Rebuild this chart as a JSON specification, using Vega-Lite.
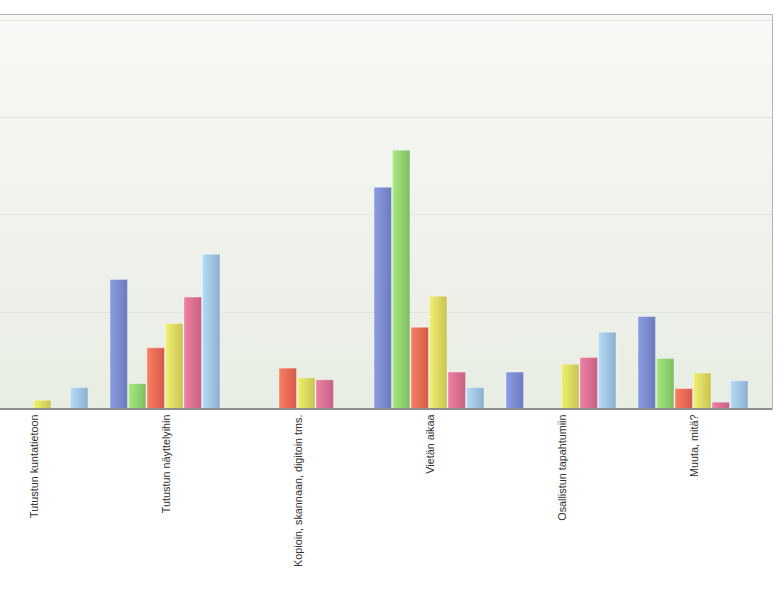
{
  "$schema": "https://vega.github.io/schema/vega-lite/v6.json",
  "autosize": {"type": "none"},
  "width": 804,
  "height": 395,
  "padding": {"left": -32, "top": 14, "right": 10, "bottom": 191},
  "background": "#ffffff",
  "config": {
    "view": {
      "stroke": "#b4b4b4",
      "strokeWidth": 1,
      "fill": {"gradient": "linear", "x1": 0, "y1": 0, "x2": 0, "y2": 1, "stops": [{"offset": 0, "color": "#f8f9f6"}, {"offset": 1, "color": "#e8ede3"}]}
    },
    "axis": {"labelFont": "Liberation Sans", "labelFontSize": 10.8, "labelColor": "#333333"}
  },
  "data": {
    "values": [
      {"kohde": "Tutustun kuntatietoon", "sarja": "S1", "arvo": 0},
      {"kohde": "Tutustun kuntatietoon", "sarja": "S2", "arvo": 0},
      {"kohde": "Tutustun kuntatietoon", "sarja": "S3", "arvo": 0},
      {"kohde": "Tutustun kuntatietoon", "sarja": "S4", "arvo": 0.9},
      {"kohde": "Tutustun kuntatietoon", "sarja": "S5", "arvo": 0},
      {"kohde": "Tutustun kuntatietoon", "sarja": "S6", "arvo": 2.2},
      {"kohde": "Tutustun näyttelyihin", "sarja": "S1", "arvo": 13.3},
      {"kohde": "Tutustun näyttelyihin", "sarja": "S2", "arvo": 2.6},
      {"kohde": "Tutustun näyttelyihin", "sarja": "S3", "arvo": 6.3},
      {"kohde": "Tutustun näyttelyihin", "sarja": "S4", "arvo": 8.8},
      {"kohde": "Tutustun näyttelyihin", "sarja": "S5", "arvo": 11.5},
      {"kohde": "Tutustun näyttelyihin", "sarja": "S6", "arvo": 15.9},
      {"kohde": "Kopioin, skannaan, digitoin tms.", "sarja": "S1", "arvo": 0},
      {"kohde": "Kopioin, skannaan, digitoin tms.", "sarja": "S2", "arvo": 0},
      {"kohde": "Kopioin, skannaan, digitoin tms.", "sarja": "S3", "arvo": 4.2},
      {"kohde": "Kopioin, skannaan, digitoin tms.", "sarja": "S4", "arvo": 3.2},
      {"kohde": "Kopioin, skannaan, digitoin tms.", "sarja": "S5", "arvo": 3.0},
      {"kohde": "Kopioin, skannaan, digitoin tms.", "sarja": "S6", "arvo": 0},
      {"kohde": "Vietän aikaa", "sarja": "S1", "arvo": 22.8},
      {"kohde": "Vietän aikaa", "sarja": "S2", "arvo": 26.6},
      {"kohde": "Vietän aikaa", "sarja": "S3", "arvo": 8.4},
      {"kohde": "Vietän aikaa", "sarja": "S4", "arvo": 11.6},
      {"kohde": "Vietän aikaa", "sarja": "S5", "arvo": 3.8},
      {"kohde": "Vietän aikaa", "sarja": "S6", "arvo": 2.2},
      {"kohde": "Osallistun tapahtumiin", "sarja": "S1", "arvo": 3.8},
      {"kohde": "Osallistun tapahtumiin", "sarja": "S2", "arvo": 0},
      {"kohde": "Osallistun tapahtumiin", "sarja": "S3", "arvo": 0},
      {"kohde": "Osallistun tapahtumiin", "sarja": "S4", "arvo": 4.6},
      {"kohde": "Osallistun tapahtumiin", "sarja": "S5", "arvo": 5.3},
      {"kohde": "Osallistun tapahtumiin", "sarja": "S6", "arvo": 7.9},
      {"kohde": "Muuta, mitä?", "sarja": "S1", "arvo": 9.5},
      {"kohde": "Muuta, mitä?", "sarja": "S2", "arvo": 5.2},
      {"kohde": "Muuta, mitä?", "sarja": "S3", "arvo": 2.1},
      {"kohde": "Muuta, mitä?", "sarja": "S4", "arvo": 3.7},
      {"kohde": "Muuta, mitä?", "sarja": "S5", "arvo": 0.7},
      {"kohde": "Muuta, mitä?", "sarja": "S6", "arvo": 2.9}
    ]
  },
  "encoding": {
    "x": {
      "field": "kohde", "type": "nominal", "sort": null, "title": null,
      "scale": {"paddingInner": 0.1667, "paddingOuter": 0.1288, "align": 0.294},
      "axis": {"labelAngle": -90, "domain": false, "ticks": false, "labelPadding": 5, "labelOffset": 2, "labelLimit": 300}
    },
    "xOffset": {
      "field": "sarja", "type": "nominal",
      "scale": {"domain": ["S1", "S2", "S3", "S4", "S5", "S6"], "paddingInner": 0.055, "paddingOuter": 0}
    },
    "y": {
      "field": "arvo", "type": "quantitative", "title": null,
      "scale": {"domain": [0, 40.6], "nice": false, "zero": true},
      "axis": {"values": [10, 20, 30, 40], "labels": false, "ticks": false, "domain": false, "grid": true, "gridColor": "#e2e4df", "gridWidth": 1}
    }
  },
  "layer": [
    {"transform": [{"filter": "datum.sarja == 'S1'"}], "mark": {"type": "bar", "stroke": "#ffffff", "strokeOpacity": 0.35, "strokeWidth": 1, "color": {"gradient": "linear", "x1": 0, "y1": 0, "x2": 1, "y2": 0, "stops": [{"offset": 0, "color": "#8d9de5"}, {"offset": 1, "color": "#6b7abb"}]}}},
    {"transform": [{"filter": "datum.sarja == 'S2'"}], "mark": {"type": "bar", "stroke": "#ffffff", "strokeOpacity": 0.35, "strokeWidth": 1, "color": {"gradient": "linear", "x1": 0, "y1": 0, "x2": 1, "y2": 0, "stops": [{"offset": 0, "color": "#a8e87d"}, {"offset": 1, "color": "#7fbe65"}]}}},
    {"transform": [{"filter": "datum.sarja == 'S3'"}], "mark": {"type": "bar", "stroke": "#ffffff", "strokeOpacity": 0.35, "strokeWidth": 1, "color": {"gradient": "linear", "x1": 0, "y1": 0, "x2": 1, "y2": 0, "stops": [{"offset": 0, "color": "#fb7e64"}, {"offset": 1, "color": "#d45b49"}]}}},
    {"transform": [{"filter": "datum.sarja == 'S4'"}], "mark": {"type": "bar", "stroke": "#ffffff", "strokeOpacity": 0.35, "strokeWidth": 1, "color": {"gradient": "linear", "x1": 0, "y1": 0, "x2": 1, "y2": 0, "stops": [{"offset": 0, "color": "#f0f070"}, {"offset": 1, "color": "#c8c353"}]}}},
    {"transform": [{"filter": "datum.sarja == 'S5'"}], "mark": {"type": "bar", "stroke": "#ffffff", "strokeOpacity": 0.35, "strokeWidth": 1, "color": {"gradient": "linear", "x1": 0, "y1": 0, "x2": 1, "y2": 0, "stops": [{"offset": 0, "color": "#ef80a3"}, {"offset": 1, "color": "#c66184"}]}}},
    {"transform": [{"filter": "datum.sarja == 'S6'"}], "mark": {"type": "bar", "stroke": "#ffffff", "strokeOpacity": 0.35, "strokeWidth": 1, "color": {"gradient": "linear", "x1": 0, "y1": 0, "x2": 1, "y2": 0, "stops": [{"offset": 0, "color": "#b3dbf7"}, {"offset": 1, "color": "#8bb0ce"}]}}},
    {"mark": {"type": "rule", "color": "#8e8e8e", "strokeWidth": 2}, "encoding": {"x": null, "xOffset": null, "y": {"datum": 0, "type": "quantitative"}}}
  ]
}
